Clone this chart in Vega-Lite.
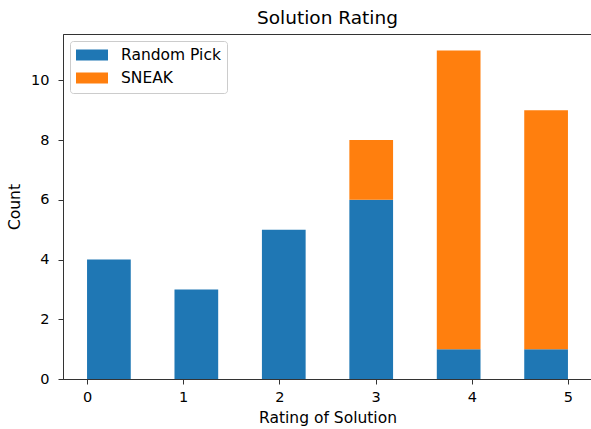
{
  "$schema": "https://vega.github.io/schema/vega-lite/v6.json",
  "width": 529,
  "height": 345,
  "autosize": "none",
  "padding": {"left": 63, "top": 34, "right": 0, "bottom": 50},
  "background": "white",
  "title": {
    "text": "Solution Rating",
    "font": "DejaVu Sans",
    "fontSize": 18.5,
    "fontWeight": "normal",
    "color": "black",
    "anchor": "middle",
    "offset": 7
  },
  "config": {
    "view": {"stroke": "#333", "strokeWidth": 1},
    "axis": {
      "grid": false,
      "domainColor": "#333",
      "tickColor": "#333",
      "tickSize": 5,
      "labelFont": "DejaVu Sans",
      "labelFontSize": 14.5,
      "labelColor": "black",
      "titleFont": "DejaVu Sans",
      "titleFontSize": 15.5,
      "titleFontWeight": "normal",
      "titleColor": "black"
    },
    "legend": {
      "labelFont": "DejaVu Sans",
      "labelFontSize": 15.5,
      "labelColor": "black"
    }
  },
  "data": {
    "values": [
      {"x0": 0, "x1": 0.4545, "series": "Random Pick", "count": 4, "ord": 0},
      {"x0": 0.9091, "x1": 1.3636, "series": "Random Pick", "count": 3, "ord": 0},
      {"x0": 1.8182, "x1": 2.2727, "series": "Random Pick", "count": 5, "ord": 0},
      {"x0": 2.7273, "x1": 3.1818, "series": "Random Pick", "count": 6, "ord": 0},
      {"x0": 3.6364, "x1": 4.0909, "series": "Random Pick", "count": 1, "ord": 0},
      {"x0": 4.5455, "x1": 5, "series": "Random Pick", "count": 1, "ord": 0},
      {"x0": 2.7273, "x1": 3.1818, "series": "SNEAK", "count": 2, "ord": 1},
      {"x0": 3.6364, "x1": 4.0909, "series": "SNEAK", "count": 10, "ord": 1},
      {"x0": 4.5455, "x1": 5, "series": "SNEAK", "count": 8, "ord": 1}
    ]
  },
  "transform": [
    {
      "stack": "count",
      "groupby": ["x0"],
      "sort": [{"field": "ord", "order": "ascending"}],
      "as": ["ylo", "yhi"]
    }
  ],
  "mark": {"type": "bar"},
  "encoding": {
    "x": {
      "field": "x0",
      "type": "quantitative",
      "scale": {"domain": [-0.25, 5.25], "nice": false, "zero": false},
      "axis": {"values": [0, 1, 2, 3, 4, 5], "format": "d", "labelPadding": 6, "titlePadding": 7},
      "title": "Rating of Solution"
    },
    "x2": {"field": "x1"},
    "y": {
      "field": "ylo",
      "type": "quantitative",
      "scale": {"domain": [0, 11.55], "nice": false},
      "axis": {"values": [0, 2, 4, 6, 8, 10], "labelPadding": 9, "titlePadding": 8},
      "title": "Count"
    },
    "y2": {"field": "yhi"},
    "color": {
      "field": "series",
      "type": "nominal",
      "scale": {"domain": ["Random Pick", "SNEAK"], "range": ["#1f77b4", "#ff7f0e"]},
      "legend": {
        "title": null,
        "orient": "top-left",
        "offset": 7,
        "padding": 6,
        "symbolType": "M-1,-0.688H3V0.688H-1Z",
        "symbolSize": 256,
        "symbolStrokeWidth": 0,
        "symbolOpacity": 1,
        "labelOffset": 29,
        "rowPadding": 6,
        "strokeColor": "#cccccc",
        "fillColor": "rgba(255,255,255,0.8)",
        "cornerRadius": 3
      }
    }
  }
}
